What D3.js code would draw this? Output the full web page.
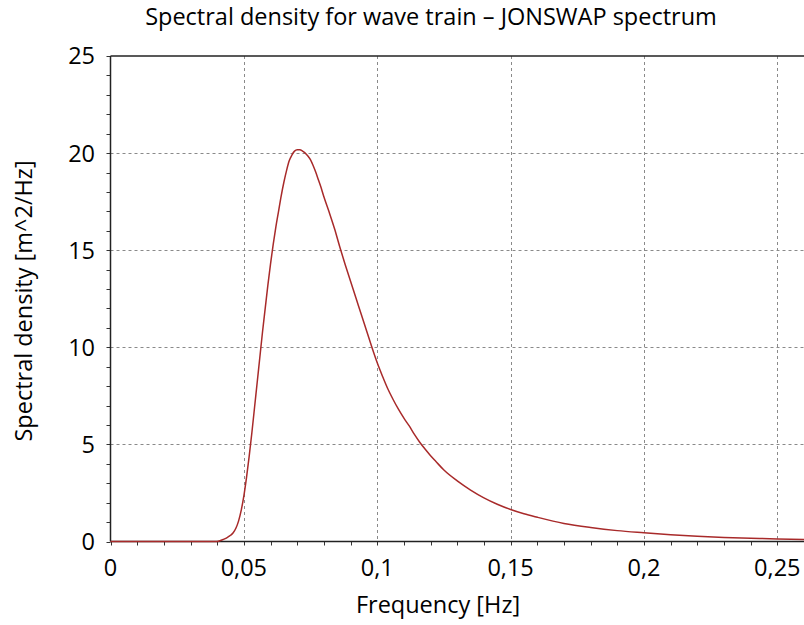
<!DOCTYPE html>
<html>
<head>
<meta charset="utf-8">
<script src="https://cdn.jsdelivr.net/npm/d3@7"></script>
<style>
  html, body { margin: 0; padding: 0; background: #fff; }
  svg { display: block; font-family: "Open Sans", sans-serif; }
</style>
</head>
<body>
<svg id="chart" width="804" height="625"></svg>
<script>
// ---- data ----
const frequency = [0, 0.02, 0.040, 0.041, 0.042, 0.043, 0.044, 0.045, 0.046, 0.047, 0.048, 0.049, 0.050,
  0.051, 0.052, 0.053, 0.054, 0.055, 0.056, 0.057, 0.058, 0.059, 0.060, 0.061, 0.062, 0.063, 0.064,
  0.065, 0.066, 0.067, 0.068, 0.069, 0.070, 0.071, 0.072, 0.073, 0.074, 0.075, 0.076, 0.077, 0.078,
  0.079, 0.080, 0.082, 0.084, 0.086, 0.088, 0.090, 0.092, 0.094, 0.096, 0.098, 0.100, 0.102, 0.104,
  0.106, 0.108, 0.110, 0.112, 0.114, 0.116, 0.118, 0.120, 0.122, 0.125, 0.130, 0.135, 0.140, 0.145,
  0.150, 0.155, 0.160, 0.170, 0.180, 0.190, 0.200, 0.210, 0.220, 0.230, 0.240, 0.250, 0.260];
const density = [0, 0, 0, 0.04, 0.09, 0.15, 0.23, 0.32, 0.45, 0.68, 1.05, 1.6, 2.35,
  3.3, 4.4, 5.6, 6.9, 8.2, 9.5, 10.8, 12.0, 13.2, 14.3, 15.3, 16.2, 17.0, 17.8,
  18.5, 19.1, 19.6, 19.9, 20.1, 20.17, 20.17, 20.1, 20.0, 19.85, 19.65, 19.35, 19.0, 18.6,
  18.2, 17.75, 16.95, 16.1, 15.15, 14.25, 13.4, 12.55, 11.7, 10.85, 10.0, 9.2, 8.5, 7.85,
  7.3, 6.8, 6.35, 5.95, 5.5, 5.1, 4.75, 4.42, 4.12, 3.68, 3.12, 2.65, 2.25, 1.92,
  1.65, 1.43, 1.25, 0.93, 0.72, 0.56, 0.45, 0.35, 0.27, 0.21, 0.17, 0.13, 0.1];
const xTicks = [0, 0.05, 0.1, 0.15, 0.2, 0.25];
const xTickLabels = ["0", "0,05", "0,1", "0,15", "0,2", "0,25"];
const yTicks = [0, 5, 10, 15, 20, 25];
const yTickLabels = ["0", "5", "10", "15", "20", "25"];
const xMinorTicks = d3.range(0, 0.2601, 0.01);
const yMinorTicks = d3.range(0, 25.01, 1);
const titleText = "Spectral density for wave train \u2013 JONSWAP spectrum";
const xLabelText = "Frequency [Hz]";
const yLabelText = "Spectral density [m^2/Hz]";

// ---- layout ----
const svg = d3.select("#chart");
const mLeft = 110.5, mRight = 804, mTop = 56, mBottom = 541.5;
const fontSize = 23.5;
const x = d3.scaleLinear().domain([0, 0.26]).range([mLeft, mRight]);
const y = d3.scaleLinear().domain([0, 25]).range([mBottom, mTop]);

// grid
const grid = svg.append("g").attr("stroke", "#8a8a8a").attr("stroke-width", 1).attr("stroke-dasharray", "3,3");
grid.selectAll("line.gx").data(xTicks.filter(d => d > 0)).join("line")
  .attr("x1", d => Math.round(x(d)) + 0.5).attr("x2", d => Math.round(x(d)) + 0.5)
  .attr("y1", mTop).attr("y2", mBottom);
grid.selectAll("line.gy").data(yTicks.filter(d => d > 0 && d < 25)).join("line")
  .attr("y1", d => Math.round(y(d)) + 0.5).attr("y2", d => Math.round(y(d)) + 0.5)
  .attr("x1", mLeft).attr("x2", mRight);

// minor ticks
const ax = svg.append("g").attr("stroke", "#333").attr("stroke-width", 1);
ax.selectAll("line.mx").data(xMinorTicks).join("line")
  .attr("x1", d => Math.round(x(d)) + 0.5).attr("x2", d => Math.round(x(d)) + 0.5)
  .attr("y1", mBottom).attr("y2", mBottom + 4);
ax.selectAll("line.my").data(yMinorTicks).join("line")
  .attr("y1", d => Math.round(y(d)) + 0.5).attr("y2", d => Math.round(y(d)) + 0.5)
  .attr("x1", mLeft - 4).attr("x2", mLeft);

// axis lines
svg.append("line").attr("x1", mLeft).attr("x2", mRight).attr("y1", mBottom).attr("y2", mBottom)
  .attr("stroke", "#222").attr("stroke-width", 1.5);
svg.append("line").attr("x1", mLeft).attr("x2", mLeft).attr("y1", mTop).attr("y2", mBottom)
  .attr("stroke", "#222").attr("stroke-width", 1.5);
svg.append("line").attr("x1", mLeft).attr("x2", mRight).attr("y1", mTop).attr("y2", mTop)
  .attr("stroke", "#222").attr("stroke-width", 1.5);

// tick labels
svg.append("g").selectAll("text").data(xTicks).join("text")
  .attr("x", d => x(d)).attr("y", 576)
  .attr("text-anchor", "middle").attr("font-size", fontSize).attr("fill", "#000")
  .text((d, i) => xTickLabels[i]);
svg.append("g").selectAll("text").data(yTicks).join("text")
  .attr("x", 95).attr("y", d => y(d)).attr("dy", "0.36em")
  .attr("text-anchor", "end").attr("font-size", fontSize).attr("fill", "#000")
  .text((d, i) => yTickLabels[i]);

// curve
const line = d3.line().x((d, i) => x(frequency[i])).y(d => y(d)).curve(d3.curveMonotoneX);
svg.append("path").datum(density).attr("d", line)
  .attr("fill", "none").attr("stroke", "#a82a2a").attr("stroke-width", 1.5);

// titles
svg.append("text").attr("x", 431).attr("y", 25).attr("text-anchor", "middle")
  .attr("font-size", fontSize).attr("fill", "#000").text(titleText);
svg.append("text").attr("x", 438).attr("y", 613).attr("text-anchor", "middle")
  .attr("font-size", fontSize).attr("fill", "#000").text(xLabelText);
svg.append("text").attr("transform", "translate(32,301) rotate(-90)").attr("text-anchor", "middle")
  .attr("font-size", fontSize).attr("fill", "#000").text(yLabelText);
</script>
</body>
</html>
